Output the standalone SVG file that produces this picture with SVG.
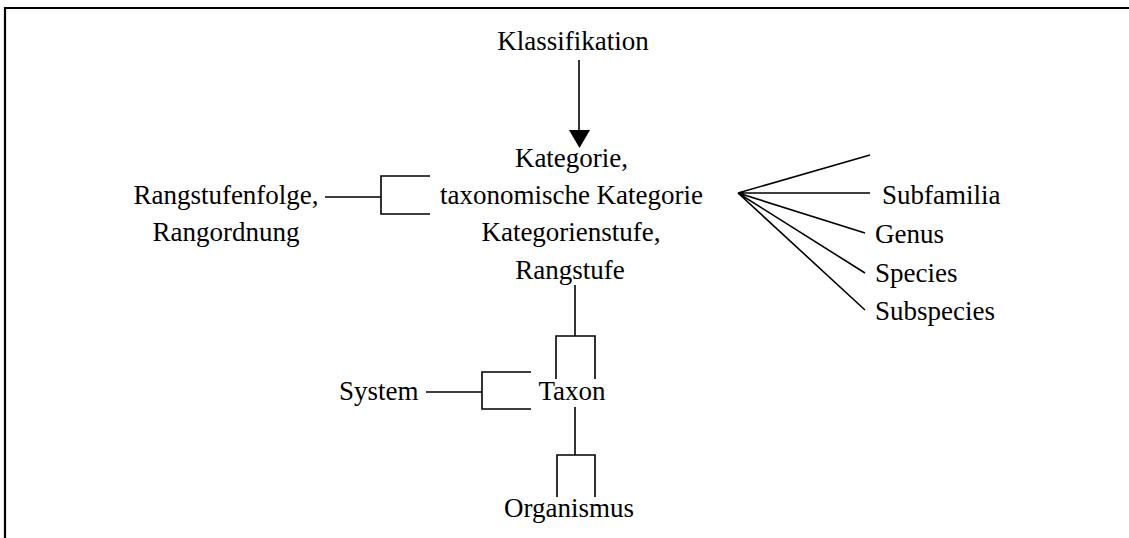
<svg xmlns="http://www.w3.org/2000/svg" width="1129" height="538" viewBox="0 0 1129 538">
<style>
text{font-family:"Liberation Serif","Times New Roman",serif;font-size:27px;fill:#000}
.c{text-anchor:middle}
.ln{stroke:#000;stroke-width:1.6;fill:none}
</style>
<rect width="1129" height="538" fill="#fff"/>
<path d="M5,540 V8 H1131" fill="none" stroke="#000" stroke-width="2.2"/>
<g id="connectors">
<line class="ln" x1="579" y1="60" x2="579" y2="132"/>
<polygon points="569,130 590,130 579.5,148" fill="#000"/>
<path class="ln" d="M325,197 H381 M430,176 H381 V214 H430"/>
<path class="ln" d="M738,193 L870,155 M738,193 L870,193 M738,193 L865,233 M738,193 L865,273 M738,193 L865,310"/>
<path class="ln" d="M575,285 V336 M556,379 V336 H595 V379"/>
<path class="ln" d="M426,392 H482 M531,372 H482 V409 H531"/>
<path class="ln" d="M575,407 V455 M557,497 V455 H595 V497"/>
</g>
<g id="klassifikation"><text class="c" x="573" y="50">Klassifikation</text></g>
<g id="kategorie">
<text class="c" x="571.5" y="167">Kategorie,</text>
<text class="c" x="571.5" y="204">taxonomische Kategorie</text>
<text class="c" x="571" y="241">Kategorienstufe,</text>
<text class="c" x="570" y="279">Rangstufe</text>
</g>
<g id="rangstufenfolge">
<text class="c" x="226" y="204">Rangstufenfolge,</text>
<text class="c" x="226" y="241">Rangordnung</text>
</g>
<g id="subfamilia"><text x="882" y="204">Subfamilia</text></g>
<g id="genus"><text x="875" y="243">Genus</text></g>
<g id="species"><text x="875" y="282">Species</text></g>
<g id="subspecies"><text x="875" y="320">Subspecies</text></g>
<g id="system"><text x="339" y="400">System</text></g>
<g id="taxon"><text class="c" x="572" y="400">Taxon</text></g>
<g id="organismus"><text class="c" x="569" y="517">Organismus</text></g>
</svg>
